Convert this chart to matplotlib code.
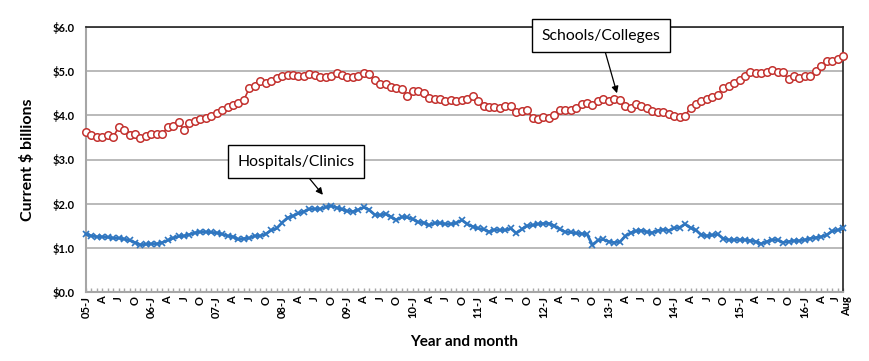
import matplotlib
matplotlib.use("Agg")
import matplotlib.pyplot as plt
import matplotlib.transforms as mtransforms
import numpy as np

schools = [3.63, 3.56, 3.50, 3.50, 3.56, 3.51, 3.73, 3.66, 3.56, 3.57,
           3.48, 3.54, 3.57, 3.58, 3.58, 3.73, 3.75, 3.86, 3.66, 3.82,
           3.88, 3.91, 3.93, 3.98, 4.05, 4.11, 4.20, 4.23, 4.28, 4.35,
           4.62, 4.67, 4.77, 4.73, 4.78, 4.85, 4.88, 4.91, 4.91, 4.88,
           4.88, 4.94, 4.92, 4.87, 4.87, 4.89, 4.96, 4.91, 4.87, 4.87,
           4.89, 4.96, 4.94, 4.79, 4.70, 4.71, 4.64, 4.62, 4.60, 4.44,
           4.54, 4.56, 4.50, 4.39, 4.38, 4.38, 4.32, 4.35, 4.32, 4.35,
           4.36, 4.43, 4.33, 4.22, 4.19, 4.19, 4.17, 4.21, 4.21, 4.07,
           4.09, 4.11, 3.94, 3.92, 3.97, 3.94, 4.01, 4.12, 4.12, 4.12,
           4.16, 4.25, 4.29, 4.24, 4.32, 4.37, 4.32, 4.37, 4.35, 4.22,
           4.17, 4.26, 4.22, 4.17, 4.10, 4.07, 4.07, 4.04, 3.98, 3.96,
           3.99, 4.17, 4.26, 4.33, 4.37, 4.41, 4.47, 4.62, 4.67, 4.73,
           4.79, 4.90, 4.99, 4.96, 4.96, 4.99, 5.03, 4.99, 4.97, 4.82,
           4.88, 4.85, 4.88, 4.88, 5.00, 5.11, 5.22, 5.24, 5.28, 5.34]

hospitals = [1.31, 1.27, 1.25, 1.25, 1.24, 1.22, 1.22, 1.20, 1.17, 1.12,
             1.07, 1.08, 1.09, 1.09, 1.12, 1.17, 1.22, 1.26, 1.27, 1.30,
             1.34, 1.36, 1.36, 1.35, 1.34, 1.31, 1.27, 1.25, 1.19, 1.21,
             1.22, 1.27, 1.27, 1.31, 1.40, 1.44, 1.57, 1.68, 1.72, 1.78,
             1.82, 1.88, 1.88, 1.88, 1.92, 1.95, 1.91, 1.87, 1.83, 1.82,
             1.86, 1.92, 1.86, 1.75, 1.74, 1.77, 1.70, 1.63, 1.70, 1.69,
             1.65, 1.58, 1.57, 1.51, 1.56, 1.56, 1.54, 1.54, 1.56, 1.63,
             1.54, 1.48, 1.44, 1.42, 1.36, 1.41, 1.40, 1.40, 1.44, 1.33,
             1.42, 1.50, 1.51, 1.54, 1.55, 1.55, 1.50, 1.42, 1.36, 1.35,
             1.33, 1.32, 1.31, 1.06, 1.17, 1.19, 1.14, 1.12, 1.13, 1.26,
             1.34, 1.38, 1.39, 1.36, 1.34, 1.39, 1.41, 1.39, 1.45, 1.46,
             1.54, 1.45, 1.40, 1.29, 1.27, 1.29, 1.31, 1.21, 1.18, 1.18,
             1.18, 1.18, 1.16, 1.14, 1.09, 1.14, 1.18, 1.18, 1.12, 1.14,
             1.16, 1.16, 1.18, 1.21, 1.23, 1.25, 1.29, 1.38, 1.40, 1.44]

years = ["05", "06", "07", "08", "09", "10", "11", "12", "13", "14", "15", "16"]
quarter_months = ["J", "A", "J", "O"]
tick_labels = []
for y in years:
    for qi, m in enumerate(quarter_months):
        tick_labels.append(f"{y}-J" if qi == 0 else m)
tick_labels = tick_labels[:47] + ["Aug"]

y_ticks = [0, 1, 2, 3, 4, 5, 6]
y_labels = ["$0.0", "$1.0", "$2.0", "$3.0", "$4.0", "$5.0", "$6.0"]

plt.rcParams['font.family'] = ['Lato', 'DejaVu Sans']

fig = plt.figure(figsize=(8.7, 3.61), dpi=100)
ax = fig.add_axes([86/870, 1-292/361, (843-86)/870, (292-27)/361])

n = len(schools)
x = np.arange(n)
red = "#C3312E"
blue = "#2F76C0"

ax.plot(x, schools, color=red, lw=1.2, marker='o', markersize=5.4,
        markerfacecolor='white', markeredgecolor=red, markeredgewidth=1.1,
        clip_on=False, zorder=3)
ax.plot(x, hospitals, color=blue, lw=2.0, marker='x', markersize=5,
        markeredgewidth=1.2, markeredgecolor=blue, clip_on=False, zorder=3)

ax.set_xlim(0, n - 1)
ax.set_ylim(0, 6)
ax.set_yticks(y_ticks)
ax.set_yticklabels(y_labels, fontsize=8, fontweight='bold')
tick_pos = list(range(0, 139, 3)) + [139]
ax.set_xticks(tick_pos)
ax.set_xticklabels(tick_labels, rotation=90, fontsize=8, fontweight='bold')
ax.set_xticks(np.arange(n), minor=True)
ax.tick_params(axis='x', which='both', direction='in', length=3, color='#a6a6a6', width=1, pad=3)
ax.tick_params(axis='y', which='both', length=0, pad=8)

# nudge last two labels apart slightly, as in the reference
xt = ax.get_xticklabels()
xt[-1].set_transform(xt[-1].get_transform() + mtransforms.ScaledTranslation(4/100, 0, fig.dpi_scale_trans))
xt[-2].set_transform(xt[-2].get_transform() + mtransforms.ScaledTranslation(-2/100, 0, fig.dpi_scale_trans))

ax.grid(axis='y', color='#b4b4b4', lw=1.3, zorder=0)
ax.set_axisbelow(True)
for s in ['left', 'bottom']:
    ax.spines[s].set_color('#a6a6a6')
    ax.spines[s].set_linewidth(1.5)
for s in ['top', 'right']:
    ax.spines[s].set_color('#222222')
    ax.spines[s].set_linewidth(1.2)

ax.set_ylabel("Current $ billions", fontsize=11.5, fontweight='bold', labelpad=13)
ax.set_xlabel("Year and month", fontsize=11, fontweight='bold', labelpad=12)

bbox = dict(boxstyle='square,pad=0.6', fc='white', ec='black', lw=1.0)
ax.annotate("Schools/Colleges", xy=(97.5, 4.5), xytext=(94.5, 5.8),
            fontsize=11.3, ha='center', va='center', bbox=bbox,
            arrowprops=dict(arrowstyle='-|>', color='black', lw=0.9,
                            mutation_scale=10, shrinkA=0, shrinkB=0),
            annotation_clip=False, zorder=5)
ax.annotate("Hospitals/Clinics", xy=(43.5, 2.2), xytext=(38.5, 2.95),
            fontsize=11.3, ha='center', va='center', bbox=bbox,
            arrowprops=dict(arrowstyle='-|>', color='black', lw=0.9,
                            mutation_scale=10, shrinkA=0, shrinkB=0),
            annotation_clip=False, zorder=5)

fig.savefig("out.png", dpi=100)
